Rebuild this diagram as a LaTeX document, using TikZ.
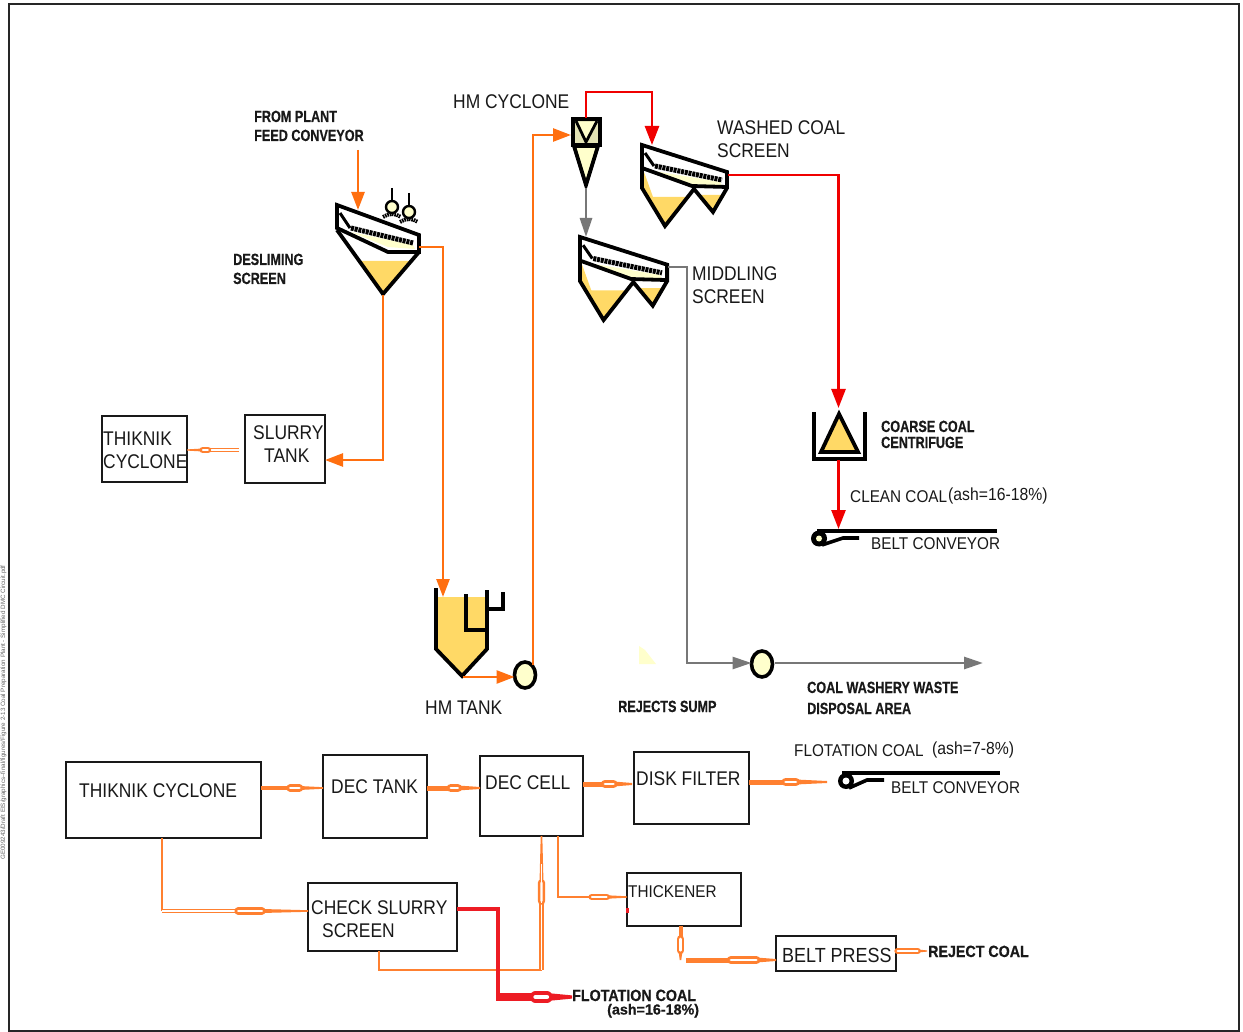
\documentclass[tikz,border=0pt]{standalone}
\usepackage{fontspec}
\setmainfont{Liberation Sans}
\newfontfamily\nq[FakeStretch=0.88]{Liberation Sans}
\newfontfamily\nr[FakeStretch=0.9]{Liberation Sans}
\newfontfamily\nb[FakeStretch=0.78,FakeBold=0.4]{Liberation Sans Bold}
\newfontfamily\nbw[FakeStretch=0.88,FakeBold=0.6]{Liberation Sans Bold}
\newfontfamily\nbx[FakeStretch=0.98,FakeBold=0.5]{Liberation Sans Bold}
\usetikzlibrary{arrows.meta,calc,shapes.geometric}
\definecolor{coalorange}{HTML}{FF6F10}
\definecolor{softorange}{HTML}{FF8030}
\definecolor{flred}{HTML}{F00000}
\definecolor{hotred}{HTML}{ED1C24}
\definecolor{flgray}{HTML}{777777}
\definecolor{gold}{HTML}{FFD966}
\definecolor{pale}{HTML}{FFFFCC}
\definecolor{olive}{HTML}{E3E3B4}
\newcommand{\boxat}[5]{\node[procbox,minimum width={(#4-#2)*1pt},minimum height={(#5-#3)*1pt}] (#1) at ({(#2+#4)/2},{(#3+#5)/2}) {};}
% from, to, width, lozenge start, lozenge end, colour
\newcommand{\flowarrow}[6]{%
  \coordinate (fa1) at ($(#1)!#4!(#2)$);
  \coordinate (fa2) at ($(#1)!#5!(#2)$);
  \draw[#6,line width=#3*1pt] (#1) -- (fa2);
  \fill[#6] ($(fa2)!#3*0.5pt!90:(#2)$) -- ($(#2)!#3*0.2pt!-90:(fa2)$) -- ($(#2)!#3*0.2pt!90:(fa2)$) -- ($(fa2)!#3*0.5pt!-90:(#2)$) -- cycle;
  \draw[#6,line width=#3*1pt+3.4pt,line cap=round] (fa1) -- (fa2);
  \draw[white,line width=#3*0.5pt+0.4pt,line cap=round] (fa1) -- (fa2);
}
% hollow (double) run between two named ends
\newcommand{\hollowrun}[2]{%
  \draw[softorange,line width=4.6pt] (#1) -- (#2);
  \draw[white,line width=1.5pt] (#1) -- (#2);
}
\tikzset{
  procbox/.style={draw=black!90,line width=2.8pt,fill=none,outer sep=0pt,inner sep=0pt},
  lr/.style={anchor=base west,inner sep=0pt,font=\nq\fontsize{19.8}{22}\selectfont,text=black!90},
  ln/.style={anchor=base west,inner sep=0pt,font=\nr\fontsize{17}{20}\selectfont,text=black!90},
  lb/.style={anchor=base west,inner sep=0pt,font=\nb\fontsize{16.2}{19}\selectfont,text=black!90},
  lbw/.style={anchor=base west,inner sep=0pt,font=\nbw\fontsize{16.2}{19}\selectfont,text=black!90},
  pumpnode/.style={ellipse,draw=black,line width=3.6pt,fill=pale,minimum width=21pt,minimum height=26pt,inner sep=0pt,outer sep=0pt},
  oflow/.style={draw=coalorange,line width=2.6pt,-{Triangle[length=18pt,width=13pt]}},
  rflow/.style={draw=flred,line width=2.6pt,-{Triangle[length=19pt,width=14pt]}},
  gflow/.style={draw=flgray,line width=2.8pt,-{Triangle[length=19pt,width=12pt]}},
  eq/.style={draw=black,line width=3.8pt,line join=miter},
  deck/.style={draw=black,line width=5pt,dash pattern=on 3pt off 0.8pt},
  screenone/.pic={
    \fill[gold] (23,56) -- (73,56) -- (46,87) -- cycle;
    \fill[pale] (14,27) -- (51,42) -- (78,44) -- (76,40) -- cycle;
    \draw[eq] (0,0) -- (82,30) -- (82,47) -- (51,47) -- (0,23) -- cycle;
    \draw[eq] (0,25) -- (46,89) -- (82,47);
    \draw[black,line width=3pt] (3,8) -- (13,23);
    \draw[deck] (14,23) -- (76,38);
  },
  screentwo/.pic={
    \fill[gold] (2,27) -- (11,52) -- (44,52) -- (23,79) -- (2,44) -- cycle;
    \fill[gold] (58,50) -- (83,50) -- (71,66) -- cycle;
    \fill[pale] (12,26) -- (50,39) -- (80,41) -- (78,37) -- cycle;
    \draw[eq] (0,0) -- (85,27) -- (85,42) -- (50,41) -- (0,23) -- cycle;
    \draw[eq] (0,23) -- (0,43) -- (23,81) -- (52,44) -- (71,67) -- (85,43);
    \draw[black,line width=3pt] (3,8) -- (12,21);
    \draw[deck] (13,21) -- (80,35);
  },
  nozzle/.pic={
    \draw[black,line width=1.4pt] (0,-19) -- (0,-6);
    \draw[black,line width=2.4pt,fill=pale] (0,0) circle (6);
    \draw[black,line width=4pt,dash pattern=on 1.6pt off 0.8pt] (-9,10) .. controls (-3,6) and (3,6) .. (9,10);
  }
}
\begin{document}
\begin{tikzpicture}[x=1pt,y=-1pt]
\useasboundingbox (0,0) rectangle (1243,1032);
\fill[white] (0,0) rectangle (1243,1032);
% frame
\draw[black!85,line width=2pt] (9,1032) -- (9,4) -- (1239,4) -- (1239,1031) -- (9,1031);
\node[anchor=west,rotate=90,inner sep=0pt,font=\fontsize{6.25}{7}\selectfont,text=black!60] (margin) at (3.5,860) {GE009243/Draft EIS/graphics--final/figures/Figure 2-13 Coal Preparation Plant - Simplified DMC Circuit.pdf};

% pale blotch
\fill[pale] (639,646) -- (645,650) -- (656,664) -- (639,664) -- cycle;

% ---------- equipment ----------
\pic at (337,205) {screenone};
\pic at (642,145) {screentwo};
\pic[scale=1.025] at (580,237) {screentwo};
\pic at (392,207) {nozzle};
\pic at (409,212) {nozzle};

% cyclone
\fill[olive] (573,119) rectangle (600,145);
\fill[pale] (576,122) -- (597,122) -- (586,142) -- cycle;
\draw[eq] (573,119) rectangle (600,145);
\draw[black,line width=2.8pt] (576,121) -- (586,142) -- (597,121);
\draw[eq,fill=pale] (574,146) -- (598,146) -- (586,185) -- cycle;

% HM tank
\fill[gold] (436,597) -- (487,597) -- (487,649) -- (462,676) -- (436,649) -- cycle;
\draw[eq] (436,588) -- (436,649) -- (462,676) -- (487,649) -- (487,590);
\draw[eq] (466,594) -- (466,630) -- (487,630);
\draw[eq] (487,609) -- (503,609) -- (503,592);

% centrifuge
\draw[eq] (814,412) -- (814,459) -- (865,459) -- (865,412);
\draw[eq,fill=gold] (839,414) -- (821,452) -- (858,452) -- cycle;

% pumps
\node[pumpnode] (hmpump) at (525,675) {};
\node[pumpnode] (rejpump) at (762,664) {};

% belt conveyors
\draw[black,line width=3.6pt] (817,531) -- (997,531);
\fill[black] (819,538.5) circle (8);
\fill[pale] (819,538.5) circle (3);
\draw[black,line width=3.6pt] (822,545) -- (843,538) -- (859,538);
\draw[black,line width=3.6pt] (842,773) -- (1000,773);
\fill[black] (846,781) circle (8);
\fill[white] (846,781) circle (3.5);
\draw[black,line width=3.6pt] (849,788) -- (867,780) -- (884,780);

% named ends
\coordinate (feedtop) at (358,150);
\coordinate (feedin) at (358,210);
\coordinate (deslimeout) at (419,247);
\coordinate (deslimeunder) at (383,295);
\coordinate (tankin) at (443,597);
\coordinate (tankout) at (463,677);
\coordinate (cycin) at (571,135);
\coordinate (cyctop) at (586,118);
\coordinate (washin) at (652,145);
\coordinate (washout) at (728,175);
\coordinate (centin) at (838.5,408);
\coordinate (centout) at (838.5,460);
\coordinate (beltin) at (838.5,529);
\coordinate (cycapex) at (586,188);
\coordinate (midin) at (586,237);
\coordinate (midout) at (668,267);
\coordinate (wasteout) at (983,663);

% ---------- process boxes ----------
\boxat{thikA}{102}{416}{187}{482}
\boxat{slurry}{245}{415}{325}{483}
\boxat{thikB}{66}{762}{261}{838}
\boxat{dectank}{323}{755}{427}{838}
\boxat{deccell}{480}{756}{583}{836}
\boxat{diskf}{634}{752}{749}{824}
\boxat{thick}{627}{873}{741}{926}
\boxat{beltp}{776}{936}{896}{971}
\boxat{check}{308}{883}{457}{951}

% ---------- upper connectors ----------
\draw[oflow] (feedtop) -- (feedin);
\draw[oflow] (deslimeout) -- (443,247) -- (tankin);
\draw[oflow] (deslimeunder) -- (383,460) -- (slurry.east |- 0,460);
\draw[oflow] (tankout) -- (hmpump.west |- 0,677);
\draw[oflow] (533,665) -- (533,135) -- (cycin);
\draw[rflow] (cyctop) -- (586,92) -- (652,92) -- (washin);
\draw[rflow] (washout) -- (838.5,175) -- (centin);
\draw[rflow] (centout) -- (beltin);
\draw[gflow] (cycapex) -- (midin);
\draw[gflow] (midout) -- (687,267) -- (687,663) -- (rejpump.west |- 0,663);
\draw[gflow] (775,663) -- (wasteout);

% ---------- lower connectors ----------
\coordinate (tA1) at (239,450);
\coordinate (tA2) at (thikA.east |- 0,450);
\coordinate (tA3) at (208,450);
\hollowrun{tA1}{tA3}
\flowarrow{tA3}{tA2}{3}{0.0}{0.25}{softorange}
\coordinate (a1s) at (thikB.east |- 0,788); \coordinate (a1e) at (dectank.west |- 0,788);
\flowarrow{a1s}{a1e}{4}{0.47}{0.62}{softorange}
\coordinate (a2s) at (dectank.east |- 0,788); \coordinate (a2e) at (deccell.west |- 0,788);
\flowarrow{a2s}{a2e}{5}{0.45}{0.58}{softorange}
\coordinate (a3s) at (deccell.east |- 0,784); \coordinate (a3e) at (632,784);
\flowarrow{a3s}{a3e}{5}{0.45}{0.62}{softorange}
\coordinate (a4s) at (diskf.east |- 0,782); \coordinate (a4e) at (827,782);
\flowarrow{a4s}{a4e}{5}{0.47}{0.6}{softorange}
% thiknik cyclone to check slurry
\coordinate (a5s) at (thikB.south -| 162,0); \coordinate (a5e) at (check.west |- 0,911);
\coordinate (a5c) at (162,911); \coordinate (a5m) at (236,911);
\draw[softorange,line width=2.4pt] (a5s) -- (a5c);
\hollowrun{a5c}{a5m}
\flowarrow{a5m}{a5e}{4}{0.03}{0.36}{softorange}
% dec cell to thickener
\coordinate (a6s) at (deccell.south -| 558,0); \coordinate (a6e) at (thick.west |- 0,897);
\draw[softorange,line width=2.4pt] (a6s) -- (558,897) -- (590,897);
\coordinate (a6m) at (590,897);
\flowarrow{a6m}{a6e}{3.5}{0.05}{0.45}{softorange}
% check slurry to dec cell
\coordinate (a7s) at (check.south -| 379,0); \coordinate (a7c) at (541.5,970); \coordinate (a7m) at (541.5,903); \coordinate (a7e) at (deccell.south -| 541.5,0);
\coordinate (a7h) at (541.5,864);
\draw[softorange,line width=2pt] (a7s) -- (379,970) -- (a7c);
\hollowrun{a7c}{a7m}
\flowarrow{a7m}{a7e}{4}{0.03}{0.3}{softorange}
\draw[white,line width=1.4pt] (a7m) -- (a7h);
% red flotation line
\coordinate (a8s) at (check.east |- 0,909); \coordinate (a8e) at (572,997);
\draw[hotred,line width=4.4pt,line join=miter] (a8s) -- (498,909) -- (498,997);
\coordinate (a8m) at (496,997);
\flowarrow{a8m}{a8e}{8}{0.52}{0.67}{hotred}
\fill[hotred] (625.5,908) rectangle (629,913);
% thickener to belt press
\coordinate (a9s) at (thick.south -| 680.5,0); \coordinate (a9e) at (680.5,960);
\flowarrow{a9s}{a9e}{4}{0.38}{0.72}{softorange}
\coordinate (a10s) at (686,960); \coordinate (a10e) at (beltp.west |- 0,960);
\flowarrow{a10s}{a10e}{5}{0.5}{0.78}{softorange}
\coordinate (a11s) at (beltp.east |- 0,951); \coordinate (a11e) at (927,951);
\flowarrow{a11s}{a11e}{3}{0.05}{0.7}{softorange}

% ---------- labels ----------
\node[lb] (t1) at (254,122) {FROM PLANT};
\node[lb] (t2) at (254,141) {FEED CONVEYOR};
\node[lb] (t3) at (233,265) {DESLIMING};
\node[lb] (t4) at (233,284) {SCREEN};
\node[lr] (t5) at (453,109) {HM CYCLONE};
\node[lr] (t6) at (717,135) {WASHED COAL};
\node[lr] (t7) at (717,158) {SCREEN};
\node[lr] (t8) at (692,281) {MIDDLING};
\node[lr] (t9) at (692,304) {SCREEN};
\node[lr] (t10) at (103,445) {THIKNIK};
\node[lr] (t11) at (103,468) {CYCLONE};
\node[lr] (t12) at (253,439.5) {SLURRY};
\node[lr] (t13) at (264,462.5) {TANK};
\node[lb] (t14) at (881,432) {COARSE COAL};
\node[lb] (t15) at (881,448) {CENTRIFUGE};
\node[ln] (t16) at (850,502) {CLEAN COAL};
\node[ln,font=\nr\fontsize{17.5}{20}\selectfont] (t17) at (948,500) {(ash=16-18\%)};
\node[ln] (t18) at (871,549) {BELT CONVEYOR};
\node[lr] (t19) at (425,714) {HM TANK};
\node[lb] (t20) at (618,712) {REJECTS SUMP};
\node[lb] (t21) at (807,693) {COAL WASHERY WASTE};
\node[lb] (t22) at (807,714) {DISPOSAL AREA};
\node[lr] (t23) at (79,797) {THIKNIK CYCLONE};
\node[lr] (t24) at (331,793) {DEC TANK};
\node[lr] (t25) at (485,789) {DEC CELL};
\node[lr] (t26) at (636,785) {DISK FILTER};
\node[ln] (t27) at (794,756) {FLOTATION COAL};
\node[ln,font=\nr\fontsize{17.5}{20}\selectfont] (t28) at (932,754) {(ash=7-8\%)};
\node[ln] (t29) at (891,793) {BELT CONVEYOR};
\node[lr] (t30) at (311,914) {CHECK SLURRY};
\node[lr] (t31) at (322,937) {SCREEN};
\node[ln] (t32) at (628,897) {THICKENER};
\node[lr,font=\nq\fontsize{20.4}{22}\selectfont] (t33) at (782,962) {BELT PRESS};
\node[lbw] (t34) at (928,957) {REJECT COAL};
\node[lbw] (t35) at (572,1001) {FLOTATION COAL};
\node[lbw,font=\nbx\fontsize{14.6}{17}\selectfont] (t36) at (607,1014.5) {(ash=16-18\%)};
\end{tikzpicture}
\end{document}
